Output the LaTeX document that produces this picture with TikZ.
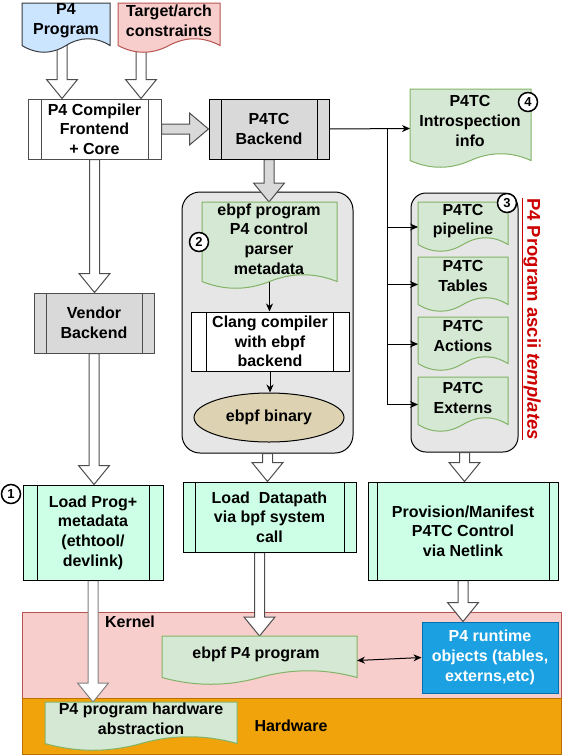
\documentclass[tikz,border=0pt]{standalone}
\usepackage{fontspec}
\setmainfont{Liberation Sans}
\usetikzlibrary{arrows.meta,calc,shapes.geometric}
\pgfdeclarelayer{bg}
\pgfdeclarelayer{arr}
\pgfsetlayers{bg,arr,main}
\definecolor{p4blue}{HTML}{CCE5FF}
\definecolor{p4bluel}{HTML}{36393D}
\definecolor{redfill}{HTML}{F8CECC}
\definecolor{redline}{HTML}{B85450}
\definecolor{grfill}{HTML}{D5E8D4}
\definecolor{grline}{HTML}{82B366}
\definecolor{mint}{HTML}{CCFFE6}
\definecolor{boxgray}{HTML}{D9D9D9}
\definecolor{contgray}{HTML}{E6E6E6}
\definecolor{bintan}{HTML}{DDD3B2}
\definecolor{rtblue}{HTML}{1BA1E2}
\definecolor{rtline}{HTML}{006EAF}
\definecolor{hwfill}{HTML}{F0A30A}
\definecolor{hwline}{HTML}{BD7000}
\definecolor{tmplred}{HTML}{CC0000}
\definecolor{dgray}{HTML}{4D4D4D}
\newcommand\mainfnt{\fontsize{16}{19.7}\selectfont\bfseries}
\newcommand\docshape[6]{%
  \path[#6] (#2,#3) -- (#4,#3) -- (#4,{#5-7.5})
    .. controls ({#4-(#4-#2)/6},{#5-16.5}) and ({(#2+#4)/2+(#4-#2)/6},{#5-16.5}) .. ({(#2+#4)/2},{#5-7.5})
    .. controls ({(#2+#4)/2-(#4-#2)/6},{#5+1.5}) and ({#2+(#4-#2)/6},{#5+1.5}) .. (#2,{#5-7.5}) -- cycle;
  \node[shapebox, minimum width={(#4-#2)*1pt}, minimum height={(#5-#3)*1pt}] (#1) at ({(#2+#4)/2},{(#3+#5)/2}) {};
}
\tikzset{
  every node/.style={font=\mainfnt, align=center},
  shapebox/.style={draw=none, fill=none, inner sep=0pt, outer sep=0pt},
  docg/.style={fill=grfill, draw=grline, line width=1pt},
  docb/.style={fill=p4blue, draw=p4bluel, line width=1pt},
  docr/.style={fill=redfill, draw=redline, line width=1pt},
  proc/.style 2 args={draw=#2, line width=1pt, inner sep=0pt,
    path picture={
      \draw[line width=1pt, #2] ([xshift=#1]path picture bounding box.north west) -- ([xshift=#1]path picture bounding box.south west);
      \draw[line width=1pt, #2] ([xshift=-#1]path picture bounding box.north east) -- ([xshift=-#1]path picture bounding box.south east);}},
  numc/.style={circle, draw=black, line width=1.5pt, fill=white, minimum size=19pt, inner sep=0pt,
    font=\fontsize{13}{13}\selectfont\bfseries},
  hdown/.style={to path={let \p1=(\tikztostart), \p2=(\tikztotarget) in
    (\x1-5pt,\y1) -- (\x1-5pt,\y2+19pt) -- (\x1-15.5pt,\y2+19pt) -- (\x1,\y2) -- (\x1+15.5pt,\y2+19pt) -- (\x1+5pt,\y2+19pt) -- (\x1+5pt,\y1) -- cycle}},
  hright/.style={to path={let \p1=(\tikztostart), \p2=(\tikztotarget) in
    (\x1,\y1+5pt) -- (\x2-19pt,\y1+5pt) -- (\x2-19pt,\y1+16pt) -- (\x2,\y1) -- (\x2-19pt,\y1-16pt) -- (\x2-19pt,\y1-5pt) -- (\x1,\y1-5pt) -- cycle}},
  holw/.style={draw=dgray, fill=white, line width=1pt},
  holg/.style={draw=dgray, fill=boxgray, line width=1pt},
  holgr/.style={draw=gray, fill=white, line width=1pt},
  tarr/.style={line width=1pt, -{Stealth[length=8pt,width=7pt,inset=2.5pt]}},
  darr/.style={line width=1pt, {Stealth[length=8pt,width=7pt,inset=2.5pt]}-{Stealth[length=8pt,width=7pt,inset=2.5pt]}},
}
\begin{document}
\begin{tikzpicture}[x=1pt,y=-1pt]
\useasboundingbox (0,0) rectangle (562,755);
% ---------- background layer ----------
\begin{pgfonlayer}{bg}
\node[draw=redline, fill=redfill, line width=1pt, minimum width=539pt, minimum height=86pt, inner sep=0pt] (kernel) at (291.5,655) {};
\node[draw=hwline, fill=hwfill, line width=1pt, minimum width=539pt, minimum height=56pt, inner sep=0pt] (hw) at (291.5,726) {};
\node[draw=black, fill=contgray, line width=1pt, rounded corners=18pt, minimum width=171pt, minimum height=261pt, inner sep=0pt] (cont1) at (267.5,322.5) {};
\node[draw=black, fill=contgray, line width=1pt, rounded corners=15pt, minimum width=107pt, minimum height=259pt, inner sep=0pt] (cont2) at (464.5,322.5) {};
\end{pgfonlayer}
\node (kernlbl) at (130,622) {Kernel};
\node (hwlbl) at (291,726) {Hardware};
% ---------- inputs ----------
\docshape{p4prog}{22}{3}{110}{53}{docb}
\node (p4prog-t) at (66,21) {P4\\Program};
\docshape{target}{118}{3}{220}{53}{docr}
\node (target-t) at (169,21) {Target/arch\\constraints};
% ---------- compiler ----------
\node[proc={13pt}{dgray}, fill=white, minimum width=133pt, minimum height=60pt] (comp) at (94.5,129) {P4 Compiler\\Frontend\\+ Core};
\node[proc={12pt}{black}, fill=boxgray, minimum width=120pt, minimum height=60pt] (backend) at (269,129) {P4TC\\Backend};
\node[proc={12pt}{dgray}, fill=boxgray, minimum width=120pt, minimum height=60pt] (vendor) at (94,323) {Vendor\\Backend};
% ---------- introspection ----------
\docshape{intro}{410}{89}{531}{168}{docg}
\node (intro-t) at (470,121) {P4TC\\Introspection\\info};
\node[numc] (c4) at (528,102) {4};
% ---------- ebpf container ----------
\docshape{ebpfdoc}{202}{202}{337}{289}{docg}
\node (ebpfdoc-t) at (269,239) {ebpf program\\P4 control\\parser\\metadata};
\node[numc] (c2) at (199,242) {2};
\node[proc={15.5pt}{black}, fill=white, minimum width=158pt, minimum height=59pt] (clang) at (270,341.5) {Clang compiler\\with ebpf\\backend};
\node[ellipse, draw=black, line width=1pt, fill=bintan, minimum width=150pt, minimum height=49pt, inner sep=0pt] (bin) at (269,417.5) {ebpf binary};
% ---------- templates container ----------
\docshape{pipe}{418}{202}{508}{252}{docg}
\node (pipe-t) at (463,221) {P4TC\\pipeline};
\docshape{tables}{418}{257}{508}{312}{docg}
\node (tables-t) at (463,276) {P4TC\\Tables};
\docshape{actions}{418}{317}{508}{371}{docg}
\node (actions-t) at (463,336) {P4TC\\Actions};
\docshape{externs}{418}{377}{508}{432}{docg}
\node (externs-t) at (463,398) {P4TC\\Externs};
\node[numc] (c3) at (507,203) {3};
\node[rotate=-90, text=tmplred, font=\fontsize{18.5}{20}\selectfont\bfseries, inner sep=0pt] (tmpl) at (531,319) {\underline{P4 Program ascii \textit{templates}}};
% ---------- loaders ----------
\node[proc={14pt}{black}, fill=mint, minimum width=140pt, minimum height=95pt] (loadprog) at (93,532.5) {Load Prog+\\metadata\\(ethtool/\\devlink)};
\node[numc] (c1) at (11,494) {1};
\node[proc={12pt}{black}, fill=mint, minimum width=173pt, minimum height=70pt] (ldp) at (269.5,517) {Load\ \ Datapath\\via bpf system\\call};
\node[proc={9pt}{black}, fill=mint, minimum width=190pt, minimum height=98pt] (prov) at (463,531) {Provision/Manifest\\P4TC Control\\via Netlink};
% ---------- kernel / hardware contents ----------
\docshape{ebpfp4}{162}{636}{357}{685}{docg}
\node (ebpfp4-t) at (256,654) {ebpf P4 program};
\node[draw=rtline, fill=rtblue, line width=1pt, text=white, minimum width=136pt, minimum height=71pt, inner sep=0pt] (runtime) at (490,657.5) {P4 runtime\\objects (tables,\\externs,etc)};
\docshape{hwdoc}{45}{702}{237}{751}{docg}
\node (hwdoc-t) at (141,719) {P4 program hardware\\abstraction};
% ---------- connectors ----------
\begin{pgfonlayer}{arr}
\draw[holw] ([xshift=-4pt]p4prog.center) to[hdown] (comp.north);
\draw[holw] ([xshift=-28pt]target.center) to[hdown] (comp.north);
\draw[holg] (comp.east) to[hright] (backend.west);
\draw[holg] (backend.south) to[hdown] (ebpfdoc.north);
\draw[holw] (comp.south) to[hdown] (vendor.north);
\draw[holw] (vendor.south) to[hdown] (loadprog.north);
\draw[holgr] (loadprog.south) to[hdown] (hwdoc.north);
\draw[holw] (cont1.south) to[hdown] (ldp.north);
\draw[holw] (ldp.south -| ebpfp4.north) to[hdown] (ebpfp4.north);
\draw[holw] (cont2.south) to[hdown] (prov.north);
\draw[holw] (prov.south) to[hdown] (runtime.north);
\draw[tarr] (ebpfdoc.center) -- (ebpfdoc.center |- clang.north);
\end{pgfonlayer}
\draw[tarr] (clang.south) -- (clang.south |- bin.north);
\draw[tarr] (backend.east) -- (intro.west);
\coordinate (bus) at (387,129);
\draw[line width=1pt] (bus) -- (bus |- externs.west);
\draw[tarr] (bus |- pipe.west) -- (pipe.west);
\draw[tarr] (bus |- tables.west) -- (tables.west);
\draw[tarr] (bus |- actions.west) -- (actions.west);
\draw[tarr] (bus |- externs.west) -- (externs.west);
\draw[darr] (ebpfp4.east) -- (runtime.west);
\end{tikzpicture}
\end{document}
